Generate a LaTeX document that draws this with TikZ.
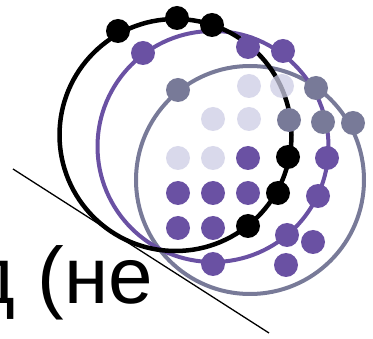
\documentclass[tikz,border=0pt]{standalone}
\usepackage{fontspec}
\setmainfont{Liberation Sans}
\definecolor{ringpurple}{RGB}{106,81,163}
\definecolor{ringgray}{RGB}{120,122,152}
\definecolor{dotlight}{RGB}{204,204,228}

\begin{document}
\begin{tikzpicture}[x=1pt,y=-1pt]
  % Frame in pixel units: X to the right, Y downward.
  \useasboundingbox (0,0) rectangle (373,339);
  \clip (0,0) rectangle (373,339);

  % The three rings.
  \draw[ringgray,line width=4pt]   (250,180) circle (114pt);
  \draw[ringpurple,line width=4pt] (213,146.5) circle (115.5pt);
  \draw[black,line width=4.5pt]    (175.5,135) circle (116pt);

  % Cut line and the text behind it.
  \draw[line width=1.3pt] (13,169) -- (269,333);
  \node[anchor=base east,inner sep=0pt,font=\fontsize{80}{80}\selectfont]
    (caption) at (153,304) {д (не};

  % Pale dots (see-through).
  \foreach \x/\y in {249/86,282/86,213/119,249/119,178/158,213/158}{
    \fill[dotlight,opacity=0.75] (\x,\y) circle (12pt);
  }

  % Purple dots.
  \foreach \x/\y in {248/158,178/193,213/193,248/193,178/228,213/228,
                     143/53,248/47,283/51,327/158,318/196,287/235,
                     313/242,213/264,286/265}{
    \fill[ringpurple] (\x,\y) circle (12pt);
  }

  % Grey dots.
  \foreach \x/\y in {178/90,316/88,289/120,323/122,353/123}{
    \fill[ringgray] (\x,\y) circle (12pt);
  }

  % Black dots.
  \foreach \x/\y in {118/31,177/18,212/25,288/157,278/193,248/226}{
    \fill[black] (\x,\y) circle (12pt);
  }
\end{tikzpicture}
\end{document}
